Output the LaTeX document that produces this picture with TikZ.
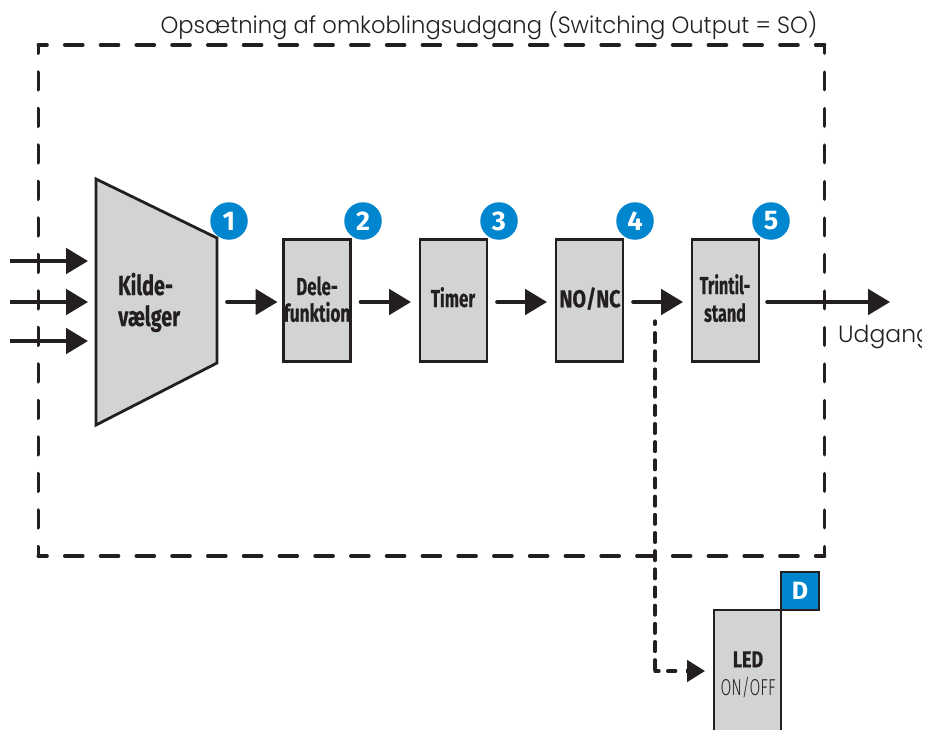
\documentclass[tikz,border=0pt]{standalone}
\usepackage{fontspec}
\usepackage{graphicx}
\usetikzlibrary{arrows.meta}
\setmainfont{Fira Sans}
\newfontfamily\lightf{Poppins Light}
\newfontfamily\hvy{Fira Sans Bold}[FakeBold=0.5]
\newfontfamily\thinf{Fira Sans Light}
\definecolor{boxgray}{HTML}{D2D4D1}
\definecolor{ink}{HTML}{231F20}
\definecolor{badgeblue}{HTML}{0086CF}
\newcommand{\cond}[2]{\scalebox{#1}[1]{#2}}
\tikzset{
  x=1pt,y=-1pt,
  hdash/.style={draw=ink,line width=3.6pt,line cap=round,dash pattern=on 18pt off 17.76pt,dash phase=9.3pt},
  vdash/.style={draw=ink,line width=3.6pt,line cap=round,dash pattern=on 17.6pt off 18.9pt,dash phase=9.4pt},
  fbox/.style={draw=ink,fill=boxgray,line width=2.8pt,minimum width=67pt,minimum height=122pt,inner sep=0pt,outer sep=0pt},
  btext/.style={anchor=base,inner sep=0pt,text=ink,font=\hvy\fontsize{24.5}{27}\selectfont},
  badge/.style={circle,fill=badgeblue,minimum size=37.5pt,inner sep=0pt,text=white,font=\fontsize{27}{27}\selectfont\bfseries},
  flow/.style={draw=ink,line width=3.6pt,line cap=round,-{Triangle[length=22pt,width=25.5pt,fill=ink]}},
  dflow/.style={draw=ink,line width=3.3pt,line cap=round},
  lighttext/.style={text=ink,inner sep=0pt,font=\lightf\fontsize{23.5}{28}\selectfont}
}
\begin{document}
\begin{tikzpicture}
\useasboundingbox (0,0) rectangle (925,729);
% outer dashed frame
\coordinate (fa) at (38.3,45);
\coordinate (fb) at (824.5,45);
\coordinate (fc) at (824.5,556);
\coordinate (fd) at (38.3,556);
\draw[hdash] (fa) -- (fb);
\draw[hdash] (fd) -- (fc);
\draw[vdash] (fa) -- (fd);
\draw[vdash] (fb) -- (fc);
\node[lighttext,anchor=base] (title) at (489,33) {\cond{.963}{Opsætning af omkoblingsudgang (Switching Output = SO)}};
% source selector
\draw[draw=ink,fill=boxgray,line width=2.8pt,line join=miter] (96,179) -- (217,238) -- (217,363) -- (96,425) -- cycle;
\node[inner sep=0pt,outer sep=0pt,minimum width=121pt,minimum height=246pt] (sel) at (156.5,302) {};
\node[btext,anchor=base west,font=\hvy\fontsize{27.5}{30}\selectfont] (s1) at (118,295) {\cond{.72}{Kilde-}};
\node[btext,anchor=base west,font=\hvy\fontsize{27.5}{30}\selectfont] (s2) at (118,326) {\cond{.72}{vælger}};
% boxes
\node[fbox] (b2) at (317,300.5) {};
\node[fbox] (b3) at (453.5,300.5) {};
\node[fbox] (b4) at (589.5,300.5) {};
\node[fbox] (b5) at (725.5,300.5) {};
\node[btext] (t2a) at (317,295) {\cond{.69}{Dele-}};
\node[btext] (t2b) at (317,321.7) {\cond{.70}{funktion}};
\node[btext] (t3) at (453,307) {\cond{.69}{Timer}};
\node[btext] (t4) at (590,307.3) {\cond{.80}{NO/NC}};
\node[btext] (t5a) at (725,294) {\cond{.66}{Trintil-}};
\node[btext] (t5b) at (725,321.7) {\cond{.66}{stand}};
% badges
\node[badge] (n1) at (229,221) {1};
\node[badge] (n2) at (363,221) {2};
\node[badge] (n3) at (499,221) {3};
\node[badge] (n4) at (635,221) {4};
\node[badge] (n5) at (771,221) {5};
% inputs
\coordinate (i1) at (10,261);
\coordinate (i2) at (10,302);
\coordinate (i3) at (10,341);
\draw[flow,line cap=butt] (i1) -- (88,261);
\draw[flow,line cap=butt] (i2) -- (88,302);
\draw[flow,line cap=butt] (i3) -- (88,341);
% chain
\draw[flow] ([shift={(10,0)}]sel.east) -- ([shift={(-6,1.5)}]b2.west);
\draw[flow] ([shift={(10,1.5)}]b2.east) -- ([shift={(-9,1.5)}]b3.west);
\draw[flow] ([shift={(10,1.5)}]b3.east) -- ([shift={(-9,1.5)}]b4.west);
\draw[flow] ([shift={(10,1.5)}]b4.east) -- ([shift={(-9,1.5)}]b5.west);
\coordinate (out) at (890,302);
\draw[flow] ([shift={(8,1.5)}]b5.east) -- (out);
\begin{scope}
\clip (830,315) rectangle (921,360);
\node[lighttext,anchor=base west] (udg) at (838,342) {Udgang};
\end{scope}
% LED
\begin{scope}
\clip (700,560) rectangle (830,729);
\node[fbox,minimum height=140pt,anchor=north west] (led) at (714,610) {};
\node[draw=ink,fill=badgeblue,line width=2.8pt,minimum size=38pt,inner sep=0pt,outer sep=0pt,anchor=south west,text=white,font=\fontsize{25}{25}\selectfont\bfseries] (d) at (781,610) {D};
\end{scope}
\node[btext,font=\hvy\fontsize{23}{23}\selectfont] (ledt) at (748,667.3) {\cond{.78}{LED}};
\node[btext,font=\thinf\fontsize{23}{23}\selectfont] (ledo) at (748,695) {\cond{.68}{ON/OFF}};
% dashed branch
\coordinate (br) at (655,321);
\coordinate (brc) at (655,671);
\draw[dflow,dash pattern=on 9.7pt off 8.47pt,dash phase=6.4pt] (br) -- (brc);
\draw[dflow,dash pattern=on 4pt off 8.7pt on 8pt off 100pt] (brc) -- (687,671);
\draw[draw=ink,line width=3.3pt,-{Triangle[length=18pt,width=21.5pt,fill=ink]}] (686,671) -- ([shift={(-9,-9)}]led.west);
\end{tikzpicture}
\end{document}
